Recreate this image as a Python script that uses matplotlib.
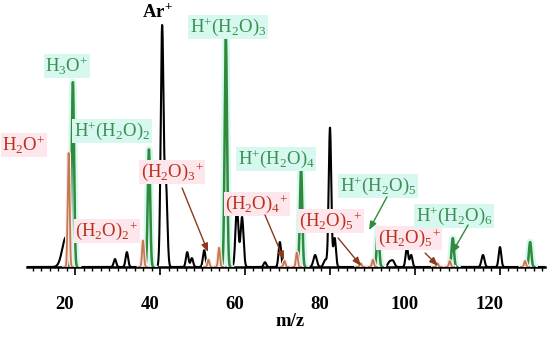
import numpy as np
import matplotlib
matplotlib.use("Agg")
import matplotlib.pyplot as plt
import matplotlib.transforms as mtrans
import matplotlib.patheffects as pe

plt.rcParams['font.family'] = ['Liberation Serif', 'DejaVu Serif']
plt.rcParams['mathtext.fontset'] = 'custom'
plt.rcParams['mathtext.rm'] = 'Liberation Serif'
plt.rcParams['mathtext.it'] = 'Liberation Serif:italic'
plt.rcParams['mathtext.bf'] = 'Liberation Serif:bold'

# ---- data (m/z, relative intensity %, peak width sigma in m/z) ----
black_mz = [17.9, 29.4, 32.2, 40.5, 41.4, 46.4, 47.5, 50.4, 58.1, 59.3, 64.7, 68.2,
            76.5, 80.0, 81.1, 78.9, 94.0, 94.8, 98.1, 99.1, 116.0, 120.0]
black_int = [12.5, 3.3, 6.2, 100.0, 34.0, 6.2, 3.7, 7.0, 24.6, 20.8, 2.0, 10.4,
             5.0, 58.0, 12.0, 3.0, 2.0, 2.5, 8.3, 5.0, 5.0, 8.3]
black_sig = [0.9, 0.3, 0.3, 0.33, 0.33, 0.3, 0.3, 0.3, 0.35, 0.35, 0.3, 0.3,
             0.4, 0.3, 0.3, 0.4, 0.4, 0.4, 0.3, 0.3, 0.35, 0.3]

green_mz = [19.5, 37.4, 55.5, 73.2, 91.3, 108.9, 127.1]
green_int = [77.0, 49.0, 95.4, 41.0, 16.0, 12.0, 10.4]

red_mz = [18.5, 36.0, 51.4, 53.9, 69.3, 72.2, 87.2, 90.1, 105.3, 108.2, 125.9]
red_int = [47.5, 11.0, 3.0, 8.0, 2.5, 6.0, 1.5, 3.0, 1.5, 2.5, 2.5]

xticks = [20, 40, 60, 80, 100, 120]

GREEN = '#2f8a3c'
GREEN_TXT = '#3b8f55'
GREEN_HALO = '#d6f8ee'
RED = '#c27a50'
RED_TXT = '#b8321e'
RED_HALO = '#fde6ec'
ARROW_RED = '#8a3a1c'

FS = 13.5

fig = plt.figure(figsize=(5.5, 3.39), dpi=100)
ax = fig.add_axes([27/550, 72/339, 518/550, 267/339])
ax.set_xlim(8.7, 130.6)
ax.set_ylim(0, 111.25)

mz = np.linspace(8.7, 130.6, 6000)
spec = np.zeros_like(mz)
for c, h, s in zip(black_mz, black_int, black_sig):
    spec += h * np.exp(-0.5 * ((mz - c) / s) ** 2)
ax.plot(mz, spec, color='black', lw=1.5, zorder=2)

def colored_peaks(centers, heights, color, halo, sig, lw, hw, z):
    for c, h in zip(centers, heights):
        xx = np.linspace(c - 1.0, c + 1.0, 200)
        yy = h * np.exp(-0.5 * ((xx - c) / sig) ** 2)
        ax.plot(xx, yy, color=color, lw=lw, zorder=z,
                path_effects=[pe.Stroke(linewidth=hw, foreground=halo), pe.Normal()])

colored_peaks(green_mz, green_int, GREEN, GREEN_HALO, 0.28, 1.8, 5, 3)
colored_peaks(red_mz, red_int, RED, RED_HALO, 0.22, 1.3, 3, 4)

# axes styling
for s in ['left', 'right', 'top']:
    ax.spines[s].set_visible(False)
ax.spines['bottom'].set_linewidth(1.8)
ax.set_yticks([])
ax.set_xticks(xticks)
ax.set_xticks(np.arange(10, 131, 2), minor=True)
ax.tick_params(axis='x', which='major', direction='out', length=6, width=1.2, pad=15,
               labelsize=FS)
ax.tick_params(axis='x', which='minor', direction='out', length=3, width=1.0)
for lab in ax.get_xticklabels():
    lab.set_fontweight('bold')
    lab.set_transform(lab.get_transform() + mtrans.ScaledTranslation(-10/100, 0, fig.dpi_scale_trans))

fig.text(290/550, 1 - 322/339, 'm/z', ha='center', va='center', fontsize=FS, fontweight='bold')

def label(x, y, s, color, halo, size=FS, weight='normal'):
    ax.text(x, y, s, color=color, ha='center', va='center', fontsize=size, fontweight=weight,
            zorder=5, clip_on=False,
            bbox=dict(boxstyle='square,pad=0.08', fc=halo, ec='none') if halo else None)

ax.text(39.3, 106.3, r'Ar$^{\mathbf{+}}$', color='black', ha='center', va='center',
        fontsize=FS, fontweight='bold', zorder=5, clip_on=False)
label(18.1, 83.75, r'H$_3$O$^{+}$', GREEN_TXT, GREEN_HALO)
label(56.0, 100.0, r'H$^{+}$(H$_2$O)$_3$', GREEN_TXT, GREEN_HALO)
label(28.7, 56.7, r'H$^{+}$(H$_2$O)$_2$', GREEN_TXT, GREEN_HALO)
label(8.0, 50.8, r'H$_2$O$^{+}$', RED_TXT, RED_HALO)
label(27.5, 15.0, r'(H$_2$O)$_2$$^{+}$', RED_TXT, RED_HALO)
label(42.8, 39.6, r'(H$_2$O)$_3$$^{+}$', RED_TXT, RED_HALO)
label(62.8, 26.25, r'(H$_2$O)$_4$$^{+}$', RED_TXT, RED_HALO)
label(67.3, 45.0, r'H$^{+}$(H$_2$O)$_4$', GREEN_TXT, GREEN_HALO)
label(80.2, 19.2, r'(H$_2$O)$_5$$^{+}$', RED_TXT, RED_HALO)
label(91.3, 33.75, r'H$^{+}$(H$_2$O)$_5$', GREEN_TXT, GREEN_HALO)
label(98.6, 12.1, r'(H$_2$O)$_5$$^{+}$', RED_TXT, RED_HALO)
label(109.2, 21.25, r'H$^{+}$(H$_2$O)$_6$', GREEN_TXT, GREEN_HALO)

def arrow(x0, y0, x1, y1, color):
    ax.annotate('', xy=(x1, y1), xytext=(x0, y0), zorder=6,
                arrowprops=dict(arrowstyle='-|>,head_length=0.5,head_width=0.2',
                                color=color, lw=1.0, shrinkA=0, shrinkB=0))

arrow(45.2, 32.9, 51.3, 6.25, ARROW_RED)
arrow(64.7, 21.7, 69.2, 2.9, ARROW_RED)
arrow(81.9, 12.1, 87.3, 0.5, ARROW_RED)
arrow(93.4, 29.2, 89.2, 15.4, GREEN)
arrow(102.4, 5.8, 105.4, 0.5, ARROW_RED)
arrow(112.5, 17.5, 108.7, 5.8, GREEN)

fig.savefig('out.png', dpi=100)
